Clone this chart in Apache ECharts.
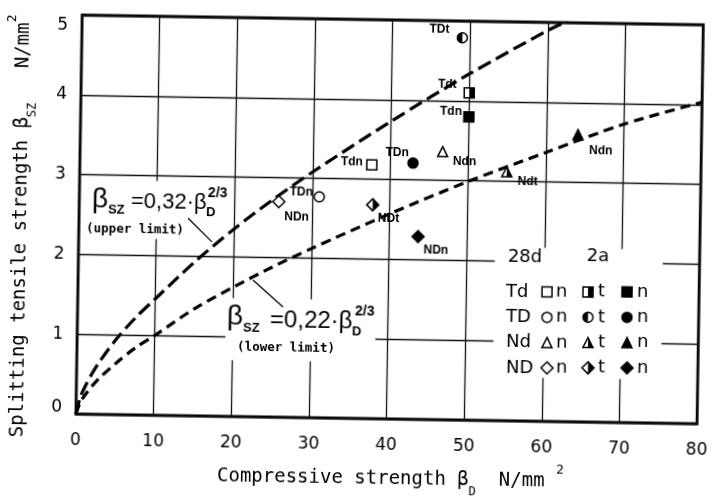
<!DOCTYPE html>
<html>
<head>
<meta charset="utf-8">
<script src="https://cdn.jsdelivr.net/npm/echarts@6/dist/echarts.min.js"></script>
<style>
  html, body { margin: 0; padding: 0; background: #fff; overflow: hidden; }
  /* the scanned figure sits slightly rotated on the page */
  #chart { width: 714px; height: 499px; transform: rotate(0.9deg); transform-origin: 394px 219.5px; }
</style>
</head>
<body>
<div id="chart"></div>
<script>
// x ticks / y ticks
const xTicks = [0, 10, 20, 30, 40, 50, 60, 70, 80]
const yTicks = [0, 1, 2, 3, 4, 5]

// dashed limit curves
const upperX = [0, 0.5, 1, 2, 3, 5, 7.5, 10, 15, 20, 25, 30, 40, 50, 60, 62.5]
const upperY = [0, 0.2, 0.32, 0.51, 0.67, 0.94, 1.22, 1.46, 1.93, 2.35, 2.73, 3.08, 3.73, 4.34, 4.9, 5.02]
const lowerX = [0, 0.5, 1, 2, 3, 5, 7.5, 10, 15, 20, 25, 30, 40, 50, 60, 70, 80]
const lowerY = [0, 0.14, 0.22, 0.35, 0.46, 0.64, 0.84, 1.0, 1.34, 1.62, 1.88, 2.12, 2.57, 2.99, 3.37, 3.74, 4.03]

// measured points
const pointX = [49.0, 50.0, 50.0, 37.6, 42.9, 46.7, 55.0, 64.1, 37.8, 43.7, 30.9, 25.7]
const pointY = [4.79, 4.1, 3.8, 3.18, 3.21, 3.36, 3.12, 3.6, 2.68, 2.29, 2.77, 2.7]
const pointNames = ["TDt", "Tdt", "Tdn", "Tdn", "TDn", "Ndn", "Ndt", "Ndn", "NDt", "NDn", "TDn", "NDn"]
const pointShapes = ["circle", "square", "square", "square", "circle", "triangle", "triangle", "triangle", "diamond", "diamond", "circle", "diamond"]
const pointFills = ["half", "half", "full", "open", "full", "open", "half", "full", "half", "full", "open", "open"]

// label offsets from the marker (px)
const labelOffsets = [[-23, -8], [-22, -8], [-18, -5], [-20, -3], [-16, -10], [22, 10], [21, 10], [23, 16], [16, 14], [18, 13], [-18, -4], [18, 15]]

const legendRows = ["Td", "TD", "Nd", "ND"]
const legendShapes = ["square", "circle", "triangle", "diamond"]

// page pixel -> unrotated chart pixel
const ROT = 0.9 * Math.PI / 180
const CX = 394, CY = 219.5
function unrot(px, py) {
  const dx = px - CX, dy = py - CY
  const c = Math.cos(ROT), s = Math.sin(ROT)
  return [CX + dx * c + dy * s, CY - dx * s + dy * c]
}

const chart = echarts.init(document.getElementById("chart"))

function markerShapes(cx, cy, shape, fill, s) {
  const h = s / 2
  const stroke = { stroke: "#000", lineWidth: 1.5 }
  const out = []
  const bg = fill === "full" ? "#000" : "#fff"
  if (shape === "square") {
    out.push({ type: "rect", shape: { x: cx - h, y: cy - h, width: s, height: s }, style: Object.assign({ fill: bg }, stroke) })
    if (fill === "half") out.push({ type: "rect", shape: { x: cx, y: cy - h, width: h, height: s }, style: { fill: "#000" } })
  } else if (shape === "circle") {
    out.push({ type: "circle", shape: { cx: cx, cy: cy, r: h }, style: Object.assign({ fill: bg }, stroke) })
    if (fill === "half") out.push({ type: "sector", shape: { cx: cx, cy: cy, r0: 0, r: h, startAngle: Math.PI / 2, endAngle: Math.PI * 1.5 }, style: { fill: "#000" } })
  } else if (shape === "triangle") {
    out.push({ type: "polygon", shape: { points: [[cx, cy - h], [cx + h, cy + h], [cx - h, cy + h]] }, style: Object.assign({ fill: bg }, stroke) })
    if (fill === "half") out.push({ type: "polygon", shape: { points: [[cx, cy - h], [cx + h, cy + h], [cx, cy + h]] }, style: { fill: "#000" } })
  } else {
    out.push({ type: "polygon", shape: { points: [[cx, cy - h - 1], [cx + h + 1, cy], [cx, cy + h + 1], [cx - h - 1, cy]] }, style: Object.assign({ fill: bg }, stroke) })
    if (fill === "half") out.push({ type: "polygon", shape: { points: [[cx, cy - h - 1], [cx + h + 1, cy], [cx, cy + h + 1]] }, style: { fill: "#000" } })
  }
  return out
}

function textAt(px, py, str, size, family, weight, align) {
  const p = unrot(px, py)
  return {
    type: "text", x: p[0], y: p[1], z: 5,
    style: { text: str, fontSize: size, fontFamily: family, fontWeight: weight || "normal", fill: "#000", align: align || "left", verticalAlign: "middle" }
  }
}

function whiteBox(x1, y1, x2, y2) {
  const p = unrot(x1, y1)
  return { type: "rect", shape: { x: p[0], y: p[1], width: x2 - x1, height: y2 - y1 }, style: { fill: "#fff" }, z: 3 }
}

function leader(x1, y1, x2, y2) {
  const a = unrot(x1, y1), b = unrot(x2, y2)
  return { type: "line", shape: { x1: a[0], y1: a[1], x2: b[0], y2: b[1] }, style: { stroke: "#000", lineWidth: 1.3 }, z: 5 }
}

const LS = "Liberation Sans"
const MONO = "DejaVu Sans Mono"
const pointData = pointX.map((x, i) => [x, pointY[i], i])

// legend built from graphic elements
const legendEls = [
  whiteBox(495, 247, 663, 377),
  textAt(525, 257, "28d", 18, "DejaVu Sans", "normal", "center"),
  textAt(598, 257, "2a", 18, "DejaVu Sans", "normal", "center")
]
legendRows.forEach((name, r) => {
  const y = 292 + r * 25.3
  legendEls.push(textAt(506, y, name, 18, "DejaVu Sans"))
  ;[["open", 547, "n", 556], ["half", 588, "t", 598], ["full", 627, "n", 637]].forEach(c => {
    const p = unrot(c[1], y)
    markerShapes(p[0], p[1], legendShapes[r], c[0], 10).forEach(el => { el.z = 5; legendEls.push(el) })
    legendEls.push(textAt(c[3], y, c[2], 18, "DejaVu Sans"))
  })
})

const yTitle = unrot(21, 226)
const xTitle = unrot(217, 476)
const annotationEls = [
  // upper limit formula
  whiteBox(84, 180, 232, 238),
  textAt(92, 200, "β", 28, LS),
  textAt(108, 210, "SZ", 13, LS, "bold"),
  textAt(131, 202, "=0,32·β", 22, LS),
  textAt(206, 212, "D", 13, LS, "bold"),
  textAt(208, 193, "2/3", 14, LS, "bold"),
  textAt(135, 230, "(upper limit)", 12.5, MONO, "bold", "center"),
  leader(188, 218, 212, 242),
  // lower limit formula
  whiteBox(226, 298, 376, 360),
  textAt(227, 317, "β", 28, LS),
  textAt(243, 328, "SZ", 13, LS, "bold"),
  textAt(270, 320, "=0,22·β", 24, LS),
  textAt(352, 332, "D", 13, LS, "bold"),
  textAt(355, 312, "2/3", 14, LS, "bold"),
  textAt(286, 348, "(lower limit)", 12.5, MONO, "bold", "center"),
  leader(253, 280, 283, 307),
  // axis titles
  {
    type: "text", x: yTitle[0], y: yTitle[1], rotation: Math.PI / 2, z: 5,
    style: {
      text: "Splitting tensile strength β{s|SZ}   N/mm{p|2}",
      fontSize: 19, fontFamily: MONO, fill: "#000", align: "center", verticalAlign: "middle",
      rich: {
        s: { fontSize: 12, fontFamily: MONO, verticalAlign: "bottom", lineHeight: 24, padding: [0, 0, -4, 0] },
        p: { fontSize: 13, fontFamily: MONO, verticalAlign: "top", lineHeight: 24, padding: [-6, 0, 0, 0] }
      }
    }
  },
  {
    type: "text", x: xTitle[0], y: xTitle[1], z: 5,
    style: {
      text: "Compressive strength β{s|D}  N/mm {p|2}",
      fontSize: 19, fontFamily: MONO, fill: "#000", verticalAlign: "middle",
      rich: {
        s: { fontSize: 12, fontFamily: MONO, verticalAlign: "bottom", lineHeight: 24, padding: [0, 0, -6, 0] },
        p: { fontSize: 13, fontFamily: MONO, verticalAlign: "top", lineHeight: 24, padding: [-6, 0, 0, 0] }
      }
    }
  }
]

const options = {
  backgroundColor: "#fff",
  animation: false,
  grid: {
    left: 79,
    right: 5,
    top: 20,
    bottom: 80,
    show: true,
    borderColor: "#000",
    borderWidth: 2.8,
    backgroundColor: "transparent"
  },
  xAxis: {
    type: "value",
    min: xTicks[0],
    max: xTicks[xTicks.length - 1],
    interval: 10,
    axisLine: { show: false },
    axisTick: { show: false },
    axisLabel: { margin: 18, fontSize: 17, fontFamily: "DejaVu Sans", color: "#000" },
    splitLine: { show: true, lineStyle: { color: "#111", width: 1.3 } }
  },
  yAxis: {
    type: "value",
    min: yTicks[0],
    max: yTicks[yTicks.length - 1],
    interval: 1,
    axisLine: { show: false },
    axisTick: { show: false },
    axisLabel: {
      margin: 14, fontSize: 17, fontFamily: "DejaVu Sans", color: "#000",
      // the end labels sit inside the frame in the figure
      formatter: function (v) {
        if (v === yTicks[yTicks.length - 1]) return "{lo|" + v + "}"
        if (v === yTicks[0]) return "{hi|" + v + "}"
        return String(v)
      },
      rich: {
        lo: { fontSize: 17, fontFamily: "DejaVu Sans", color: "#000", padding: [22, 0, 0, 0] },
        hi: { fontSize: 17, fontFamily: "DejaVu Sans", color: "#000", padding: [0, 0, 12, 0] }
      }
    },
    splitLine: { show: true, lineStyle: { color: "#111", width: 1.3 } }
  },
  graphic: legendEls.concat(annotationEls),
  series: [
    {
      name: "upper limit",
      type: "line",
      smooth: 0.3,
      symbol: "none",
      z: 4,
      lineStyle: { color: "#000", width: 3.2, type: [14, 6] },
      data: upperX.map((x, i) => [x, upperY[i]])
    },
    {
      name: "lower limit",
      type: "line",
      smooth: 0.3,
      symbol: "none",
      z: 4,
      lineStyle: { color: "#000", width: 3.2, type: [10, 6] },
      data: lowerX.map((x, i) => [x, lowerY[i]])
    },
    {
      name: "points",
      type: "custom",
      z: 6,
      data: pointData,
      renderItem: function (params, api) {
        const i = api.value(2)
        const p = api.coord([api.value(0), api.value(1)])
        const children = markerShapes(p[0], p[1], pointShapes[i], pointFills[i], 10)
        children.push({
          type: "text",
          x: p[0] + labelOffsets[i][0],
          y: p[1] + labelOffsets[i][1],
          style: { text: pointNames[i], fontSize: 12, fontFamily: LS, fontWeight: "bold", fill: "#000", align: "center", verticalAlign: "middle" }
        })
        return { type: "group", children: children }
      }
    }
  ]
}

chart.setOption(options)
</script>
</body>
</html>
